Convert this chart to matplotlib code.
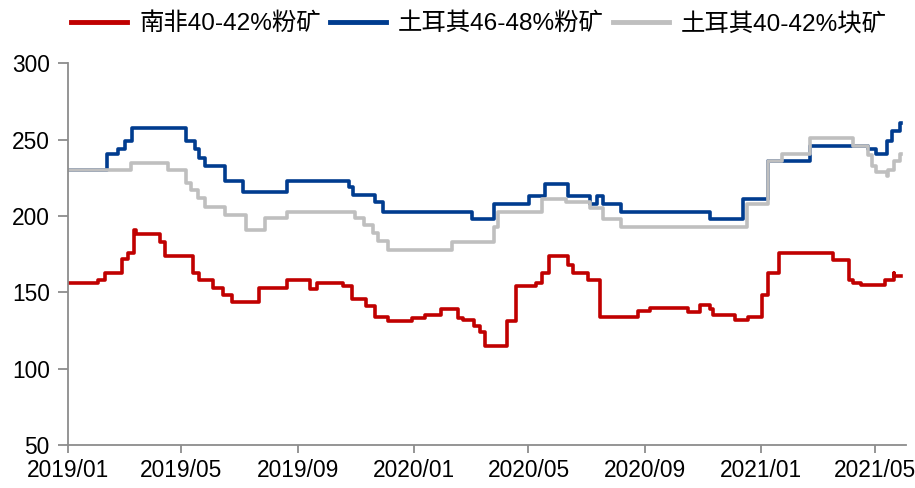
import matplotlib
matplotlib.use("Agg")
import matplotlib.pyplot as plt
import matplotlib.dates as mdates
import pandas as pd

# step change points (date, price)
red_dates = ["2019-01-01", "2019-02-02", "2019-02-09", "2019-02-27", "2019-03-06", "2019-03-12",
             "2019-03-14", "2019-04-08", "2019-04-14", "2019-05-13", "2019-05-20", "2019-06-03",
             "2019-06-14", "2019-06-23", "2019-07-22", "2019-08-20", "2019-09-14", "2019-09-21",
             "2019-10-18", "2019-10-28", "2019-11-12", "2019-11-21", "2019-12-05", "2019-12-30",
             "2020-01-13", "2020-01-30", "2020-02-17", "2020-02-22", "2020-03-05", "2020-03-11",
             "2020-03-16", "2020-04-08", "2020-04-18", "2020-05-09", "2020-05-15", "2020-05-23",
             "2020-06-12", "2020-06-17", "2020-07-03", "2020-07-15", "2020-08-25", "2020-09-06",
             "2020-10-16", "2020-10-29", "2020-11-08", "2020-11-12", "2020-12-05", "2020-12-19",
             "2021-01-02", "2021-01-09", "2021-01-20", "2021-03-18", "2021-04-04", "2021-04-08",
             "2021-04-17", "2021-05-12", "2021-05-21", "2021-05-22", "2021-05-29"]
red_vals = [156, 158, 163, 172, 176, 191,
            188, 183, 174, 163, 158, 153,
            148, 144, 153, 158, 152, 156,
            154, 146, 141, 134, 131, 133,
            135, 139, 133, 132, 128, 124,
            115, 131, 154, 156, 163, 174,
            168, 163, 158, 134, 138, 140,
            137, 142, 139, 135, 132, 134,
            148, 163, 176, 171, 158, 156,
            155, 158, 163, 161, 161]

blue_dates = ["2019-01-01", "2019-02-11", "2019-02-23", "2019-03-02", "2019-03-10", "2019-05-06",
              "2019-05-15", "2019-05-20", "2019-05-26", "2019-06-16", "2019-07-05", "2019-08-20",
              "2019-10-25", "2019-10-29", "2019-11-21", "2019-11-30", "2020-03-02", "2020-03-26",
              "2020-05-02", "2020-05-18", "2020-06-12", "2020-07-05", "2020-07-12", "2020-07-19",
              "2020-08-07", "2020-11-08", "2020-12-13", "2021-01-09", "2021-02-22", "2021-04-24",
              "2021-05-03", "2021-05-14", "2021-05-19", "2021-05-28", "2021-05-29"]
blue_vals = [230, 241, 244, 249, 258, 249,
             244, 238, 233, 223, 216, 223,
             219, 214, 209, 203, 198, 208,
             213, 221, 213, 208, 213, 208,
             203, 198, 211, 236, 246, 244,
             241, 249, 256, 261, 261]

grey_dates = ["2019-01-01", "2019-03-09", "2019-04-17", "2019-05-06", "2019-05-11", "2019-05-18",
              "2019-05-26", "2019-06-16", "2019-07-08", "2019-07-28", "2019-08-20", "2019-10-31",
              "2019-11-10", "2019-11-19", "2019-11-24", "2019-12-05", "2020-02-10", "2020-03-26",
              "2020-03-30", "2020-05-15", "2020-06-10", "2020-07-05", "2020-07-19", "2020-08-07",
              "2020-12-17", "2021-01-09", "2021-01-23", "2021-02-22", "2021-04-08", "2021-04-24",
              "2021-04-28", "2021-05-03", "2021-05-14", "2021-05-15", "2021-05-21", "2021-05-28",
              "2021-05-29"]
grey_vals = [230, 235, 230, 222, 217, 212,
             206, 201, 191, 199, 203, 199,
             194, 189, 184, 178, 183, 193,
             203, 211, 209, 205, 198, 193,
             208, 236, 241, 251, 246, 240,
             233, 229, 226, 230, 236, 241,
             241]

labels = ["南非40-42%粉矿", "土耳其46-48%粉矿", "土耳其40-42%块矿"]
colors = ["#C00000", "#003C8F", "#BFBFBF"]

plt.rcParams['font.family'] = ['Liberation Sans', 'Noto Sans CJK SC', 'DejaVu Sans']

fig = plt.figure(figsize=(9.15, 4.88), dpi=100)
ax = fig.add_axes([0.074, 0.0881, 0.916, 0.7818])

series = [(red_dates, red_vals), (blue_dates, blue_vals), (grey_dates, grey_vals)]
for (d, v), lab, c in zip(series, labels, colors):
    ax.plot(pd.to_datetime(d), v, drawstyle="steps-post", color=c, lw=2.6, label=lab)

ax.set_ylim(50, 300)
ax.set_yticks([50, 100, 150, 200, 250, 300])
ax.set_xlim(pd.Timestamp("2019-01-01"), pd.Timestamp("2021-06-03"))
ax.set_xticks(pd.to_datetime(["2019-01-01", "2019-05-01", "2019-09-01", "2020-01-01",
                              "2020-05-01", "2020-09-01", "2021-01-01", "2021-05-01"]))
ax.xaxis.set_major_formatter(mdates.DateFormatter("%Y/%m"))

for s in ["top", "right"]:
    ax.spines[s].set_visible(False)
for s in ["left", "bottom"]:
    ax.spines[s].set_color("#8C8C8C")
    ax.spines[s].set_linewidth(1.3)
ax.tick_params(axis="both", colors="#8C8C8C", width=1.3, labelcolor="black", labelsize=16.4)
ax.tick_params(axis="y", length=7, pad=6)
ax.tick_params(axis="x", length=6, pad=4)

fig.legend(loc="center", bbox_to_anchor=(0.5235, 0.951), ncol=3, frameon=False,
           fontsize=17.6, handlelength=2.3, handletextpad=0.5, columnspacing=0.35)
for line in fig.legends[0].get_lines():
    line.set_linewidth(3.5)

fig.savefig("out.png", dpi=100)
